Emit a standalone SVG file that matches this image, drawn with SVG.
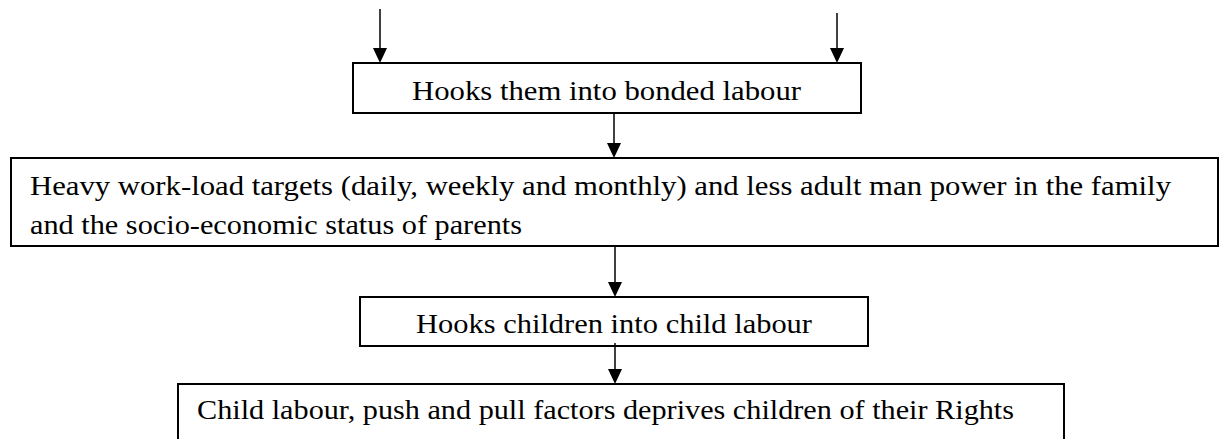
<svg xmlns="http://www.w3.org/2000/svg" width="1224" height="439" viewBox="0 0 1224 439">
<style>
.box{fill:#fff;stroke:#000;stroke-width:2}
.t{font-family:"Liberation Serif","Times New Roman",serif;font-size:27px;fill:#000}
.c{stroke:#000;stroke-width:1.5;fill:none}
</style>
<rect width="1224" height="439" fill="#fff"/>
<g id="n1">
<rect class="box" x="353" y="63" width="508" height="50"/>
<text class="t" x="412" y="100" textLength="389" lengthAdjust="spacingAndGlyphs">Hooks them into bonded labour</text>
</g>
<g id="n2">
<rect class="box" x="11" y="158" width="1207" height="88"/>
<text class="t" x="30" y="195" textLength="1141" lengthAdjust="spacingAndGlyphs">Heavy work-load targets (daily, weekly and monthly) and less adult man power in the family</text>
<text class="t" x="30" y="234" textLength="492" lengthAdjust="spacingAndGlyphs">and the socio-economic status of parents</text>
</g>
<g id="n3">
<rect class="box" x="360" y="297" width="508" height="49"/>
<text class="t" x="416" y="333" textLength="396" lengthAdjust="spacingAndGlyphs">Hooks children into child labour</text>
</g>
<g id="n4">
<rect class="box" x="178" y="384" width="886" height="60"/>
<text class="t" x="197" y="419" textLength="817" lengthAdjust="spacingAndGlyphs">Child labour, push and pull factors deprives children of their Rights</text>
</g>
<g id="connectors">
<line class="c" x1="380" y1="9" x2="380" y2="49"/>
<path d="M373,48 L387,48 L380,63 Z" fill="#000"/>
<line class="c" x1="837" y1="13" x2="837" y2="49"/>
<path d="M830,48 L844,48 L837,63 Z" fill="#000"/>
<line class="c" x1="614" y1="113" x2="614" y2="144"/>
<path d="M607,143 L621,143 L614,158 Z" fill="#000"/>
<line class="c" x1="615" y1="246" x2="615" y2="283"/>
<path d="M608,282 L622,282 L615,297 Z" fill="#000"/>
<line class="c" x1="615" y1="343" x2="615" y2="370"/>
<path d="M608,369 L622,369 L615,384 Z" fill="#000"/>
</g>
</svg>
